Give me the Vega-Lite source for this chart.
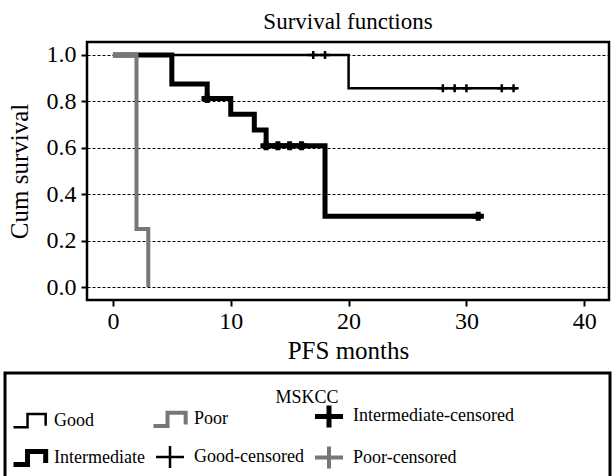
{
  "$schema": "https://vega.github.io/schema/vega-lite/v6.json",
  "width": 522,
  "height": 258,
  "autosize": {"type": "none"},
  "padding": {"left": 87, "top": 42, "right": 7, "bottom": 176},
  "background": "white",
  "title": {"text": "Survival functions", "font": "Liberation Serif", "fontSize": 23, "fontWeight": "normal", "color": "black", "offset": 8},
  "config": {
    "view": {"stroke": "black", "strokeWidth": 2.5},
    "axis": {"labelFont": "Liberation Serif", "titleFont": "Liberation Serif", "labelFontSize": 24, "titleFontSize": 25, "titleFontWeight": "normal", "labelColor": "black", "titleColor": "black", "tickColor": "black", "tickWidth": 2, "tickSize": 6, "domain": false},
    "legend": {
      "orient": "none", "legendX": -82, "legendY": 331, "direction": "horizontal", "columns": 3,
      "strokeColor": "black", "strokeWidth": 3, "padding": 6, "fillColor": "white",
      "labelFont": "Liberation Serif", "labelFontSize": 18, "labelColor": "black", "labelOffset": 5, "labelLimit": 0,
      "titleFont": "Liberation Serif", "titleFontSize": 18, "titleFontWeight": "normal", "titleColor": "black", "titleAnchor": "middle", "titlePadding": 0,
      "symbolSize": 1089, "columnPadding": 0, "rowPadding": 0, "symbolOpacity": 1
    }
  },
  "datasets": {
    "curves": [
      {"group": "Good", "months": 0, "survival": 1},
      {"group": "Good", "months": 20, "survival": 0.857},
      {"group": "Good", "months": 34.3, "survival": 0.857},
      {"group": "Intermediate", "months": 0, "survival": 1},
      {"group": "Intermediate", "months": 5, "survival": 0.875},
      {"group": "Intermediate", "months": 8, "survival": 0.8125},
      {"group": "Intermediate", "months": 10, "survival": 0.745},
      {"group": "Intermediate", "months": 12, "survival": 0.677},
      {"group": "Intermediate", "months": 13, "survival": 0.609},
      {"group": "Intermediate", "months": 18, "survival": 0.305},
      {"group": "Intermediate", "months": 31.2, "survival": 0.305},
      {"group": "Poor", "months": 0, "survival": 1},
      {"group": "Poor", "months": 2, "survival": 0.25},
      {"group": "Poor", "months": 3, "survival": 0}
    ],
    "censors": [
      {"group": "Good-censored", "months": 17, "survival": 1},
      {"group": "Good-censored", "months": 18, "survival": 1},
      {"group": "Good-censored", "months": 28, "survival": 0.857},
      {"group": "Good-censored", "months": 29, "survival": 0.857},
      {"group": "Good-censored", "months": 30, "survival": 0.857},
      {"group": "Good-censored", "months": 33, "survival": 0.857},
      {"group": "Good-censored", "months": 34, "survival": 0.857},
      {"group": "Intermediate-censored", "months": 8, "survival": 0.8125},
      {"group": "Intermediate-censored", "months": 13, "survival": 0.609},
      {"group": "Intermediate-censored", "months": 14, "survival": 0.609},
      {"group": "Intermediate-censored", "months": 15, "survival": 0.609},
      {"group": "Intermediate-censored", "months": 16, "survival": 0.609},
      {"group": "Intermediate-censored", "months": 31, "survival": 0.305}
    ]
  },
  "encoding": {
    "x": {"field": "months", "type": "quantitative",
      "scale": {"domain": [-2.2, 42.1], "nice": false, "zero": false},
      "axis": {"values": [0, 10, 20, 30, 40], "title": "PFS months", "grid": false, "labelPadding": 3, "titlePadding": 5}},
    "y": {"field": "survival", "type": "quantitative",
      "scale": {"domain": [-0.056, 1.056], "nice": false, "zero": false},
      "axis": {"values": [0, 0.2, 0.4, 0.6, 0.8, 1], "format": ".1f", "title": "Cum survival", "grid": true, "gridColor": "black", "gridDash": [3, 2], "gridWidth": 1, "gridOpacity": 1, "labelPadding": 5, "titlePadding": 14}},
    "color": {"field": "group", "type": "nominal",
      "scale": {"domain": ["Good", "Poor", "Intermediate-censored", "Intermediate", "Good-censored", "Poor-censored"], "range": ["black", "#777777", "black", "black", "black", "#777777"]},
      "legend": {"title": "MSKCC",
        "labelExpr": "datum.value === 'Intermediate-censored' ? datum.label + '                    \u200b' : datum.label",
        "encode": {"title": {"update": {"dy": {"value": 10}}}}}},
    "strokeWidth": {"field": "group", "type": "nominal",
      "scale": {"type": "ordinal", "domain": ["Good", "Poor", "Intermediate-censored", "Intermediate", "Good-censored", "Poor-censored"], "range": [2.5, 4, 5, 5, 2.5, 4]},
      "legend": {"title": "MSKCC"}}
  },
  "layer": [
    {
      "data": {"name": "curves"},
      "mark": {"type": "line", "interpolate": "step-after"}
    },
    {
      "data": {"name": "censors"},
      "mark": {"type": "point", "filled": false, "opacity": 1},
      "encoding": {
        "shape": {"field": "group", "type": "nominal",
          "scale": {"domain": ["Good", "Poor", "Intermediate-censored", "Intermediate", "Good-censored", "Poor-censored"],
            "range": ["M-1,0.4H-0.15V-0.4H0.95V0.3", "M-1,0.4H-0.15V-0.4H0.95V0.3", "M-0.85,0H0.85M0,-0.67V0.67", "M-1,0.4H-0.15V-0.4H0.95V0.3", "M-0.85,0H0.85M0,-0.67V0.67", "M-0.85,0H0.85M0,-0.67V0.67"]},
          "legend": {"title": "MSKCC"}},
        "size": {"condition": {"test": "datum.group === 'Good-censored'", "value": 144}, "value": 180}
      }
    }
  ]
}
